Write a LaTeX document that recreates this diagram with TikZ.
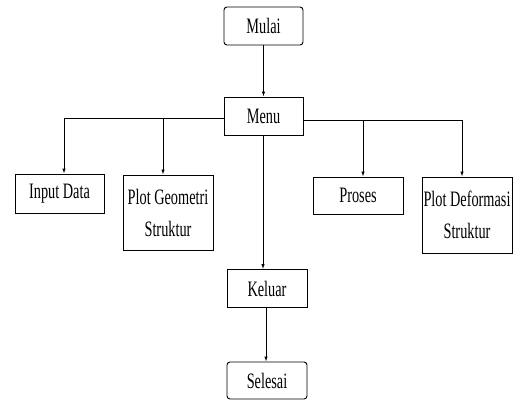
\documentclass[tikz,border=0pt]{standalone}
\usepackage{fontspec}
\setmainfont{Liberation Serif}[FakeStretch=0.65]
\usetikzlibrary{arrows.meta}
\begin{document}
\begin{tikzpicture}[x=1pt,y=-1pt,
  box/.style={draw=black,line width=0.9pt,align=center,font=\fontsize{22}{32}\selectfont,inner sep=1pt},
  rbox/.style={box,rounded corners=3pt},
  arr/.style={draw=black,line width=0.9pt,-{Latex[length=5pt,width=3.5pt]}}]
\useasboundingbox (0,0) rectangle (530,402);
\node[rbox,minimum width=79pt,minimum height=38pt] (mulai) at (263.5,26) {Mulai};
\node[box,minimum width=79pt,minimum height=38pt] (menu) at (263.5,116) {Menu};
\node[box,minimum width=89pt,minimum height=39pt] (input) at (59.5,193.5) {Input Data};
\node[box,minimum width=90pt,minimum height=75pt] (pg) at (168,212.5) {Plot Geometri\\Struktur};
\node[box,minimum width=90pt,minimum height=37pt] (proses) at (358,195.5) {Proses};
\node[box,minimum width=90pt,minimum height=76pt] (pd) at (467,215) {Plot Deformasi\\Struktur};
\node[box,minimum width=80pt,minimum height=38pt] (keluar) at (267,288.5) {Keluar};
\node[rbox,minimum width=80pt,minimum height=37pt] (selesai) at (267,380.5) {Selesai};
% connector anchor points
\coordinate (busL) at ([yshift=-2pt]menu.west);
\coordinate (busR) at ([yshift=-4pt]menu.east);
\coordinate (inT) at ([xshift=4.5pt]input.north);
\coordinate (pgT) at ([xshift=-5pt]pg.north);
\coordinate (prT) at ([xshift=5pt]proses.north);
\coordinate (pdT) at ([xshift=-5pt]pd.north);
\coordinate (keT) at ([xshift=-4pt]keluar.north);
\coordinate (keB) at ([xshift=-1pt]keluar.south);
\coordinate (seT) at ([xshift=-1pt]selesai.north);
\draw[arr] (mulai) -- (menu);
\draw[arr] (busL) -| (inT);
\draw[arr] (pgT |- busL) -- (pgT);
\draw[arr] (busR) -| (pdT);
\draw[arr] (prT |- busR) -- (prT);
\draw[arr] (menu.south -| keT) -- (keT);
\draw[arr] (keB) -- (seT);
\end{tikzpicture}
\end{document}
